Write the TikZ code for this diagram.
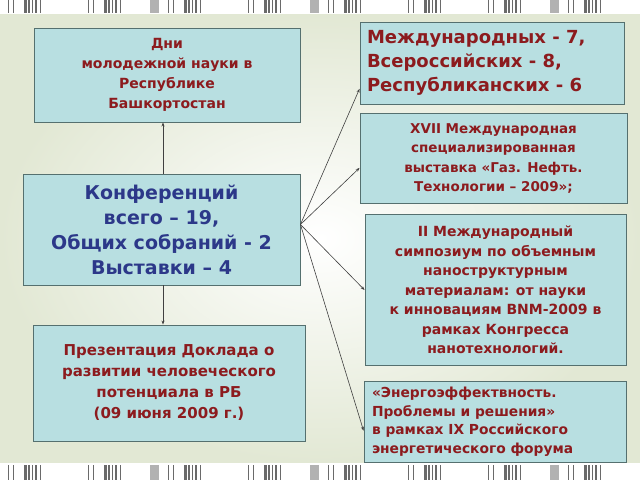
\documentclass[tikz,border=0pt]{standalone}
\usepackage{fontspec}
\setmainfont{DejaVu Sans}
\usepackage{tikz}
\usetikzlibrary{positioning,arrows.meta}

\definecolor{boxfill}{HTML}{B8DFE1}
\definecolor{boxline}{HTML}{55706F}
\definecolor{darkred}{HTML}{8C1B1E}
\definecolor{darkblue}{HTML}{2C3889}
\definecolor{bgtint}{HTML}{E2E8D4}
\definecolor{barcol}{HTML}{6A6A6A}

\begin{document}
\begin{tikzpicture}[x=1pt,y=-1pt,
			infobox/.style={rectangle, draw=boxline, fill=boxfill, line width=0.9pt, inner sep=0pt},
			link/.style={draw=black!75, line width=0.6pt, -{Stealth[length=4pt,width=3pt]}},
			]
			%Background
				\useasboundingbox (0,0) rectangle (640,480);
				\fill[white] (0,0) rectangle (640,480);
				\shade[inner color=white, outer color=bgtint] (0,14) rectangle (640,462);
				\foreach \gx/\gray in {8/0,88/1,168/0,248/1,328/0,408/0,488/1,568/0} {
					\foreach \dx/\w in {0/1,5/1,16/2.5,20/1.5,24/1,27/2,32/1} {
						\fill[barcol] (\gx+\dx,0) rectangle +(\w,13);
						\fill[barcol] (\gx+\dx,465) rectangle +(\w,15);
					}
					\ifnum\gray=1
						\fill[black!30] (\gx+62,0) rectangle +(9,13);
						\fill[black!30] (\gx+62,465) rectangle +(9,15);
					\fi
				}
			%Nodes
				\node[infobox, minimum width=266, minimum height=94]	(days)		at (167,75)
					{\fontsize{14}{20}\selectfont\parbox{250pt}{\centering\color{darkred}\bfseries Дни\\молодежной науки в\\Республике\\Башкортостан}};
				\node[infobox, minimum width=277, minimum height=111]	(conf)		at (161.5,229.5)
					{\fontsize{19}{25}\selectfont\parbox{270pt}{\centering\color{darkblue}\bfseries Конференций\\всего – 19,\\Общих собраний - 2\\Выставки – 4}};
				\node[infobox, minimum width=272, minimum height=116]	(report)	at (169,383)
					{\fontsize{15}{21}\selectfont\parbox{265pt}{\centering\color{darkred}\bfseries Презентация Доклада о\\развитии человеческого\\потенциала в РБ\\(09 июня 2009 г.)}};
				\node[infobox, minimum width=264, minimum height=82]	(intl)		at (492,63)
					{\fontsize{18}{24}\selectfont\parbox{250pt}{\raggedright\color{darkred}\bfseries Международных - 7,\\Всероссийских - 8,\\Республиканских - 6}};
				\node[infobox, minimum width=267, minimum height=90]	(expo)		at (493.5,158.5)
					{\fontsize{13.5}{19.5}\selectfont\parbox{255pt}{\centering\color{darkred}\bfseries XVII Международная\\специализированная\\выставка «Газ. Нефть.\\Технологии – 2009»;}};
				\node[infobox, minimum width=261, minimum height=151]	(symp)		at (495.5,290)
					{\fontsize{14}{19.5}\selectfont\parbox{250pt}{\centering\color{darkred}\bfseries II Международный\\симпозиум по объемным\\наноструктурным\\материалам: от науки\\к инновациям BNM-2009 в\\рамках Конгресса\\нанотехнологий.}};
				\node[infobox, minimum width=262, minimum height=81]	(energy)	at (495,421.5)
					{\fontsize{13.8}{18.5}\selectfont\parbox{246pt}{\raggedright\color{darkred}\bfseries «Энергоэффектвность.\\Проблемы и решения»\\в рамках IX Российского\\энергетического форума}};

			%Lines
				\draw[link] ([yshift=5]conf.east) -- (intl.191);
				\draw[link] ([yshift=5]conf.east) -- (expo.184);
				\draw[link] ([yshift=5]conf.east) -- (symp.west);
				\draw[link] ([yshift=5]conf.east) -- (energy.184);
				\draw[link] ([xshift=1.5]conf.north) -- ([xshift=1.5]conf.north |- days.south);
				\draw[link] ([xshift=1.5]conf.south) -- ([xshift=1.5]conf.south |- report.north);
		\end{tikzpicture}
\end{document}
